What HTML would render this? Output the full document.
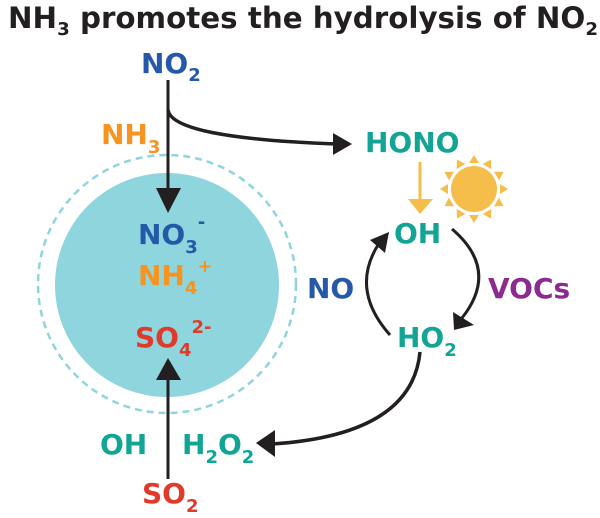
<!DOCTYPE html>
<html><head><meta charset="utf-8"><style>
html,body{margin:0;padding:0;background:#fff;width:600px;height:518px;overflow:hidden}
svg{display:block}
text{font-family:"DejaVu Sans","Liberation Sans",sans-serif;font-weight:bold}
</style></head><body>
<svg width="600" height="518" viewBox="0 0 600 518" xmlns="http://www.w3.org/2000/svg">
<!-- title -->
<text x="8" y="28" font-size="29" fill="#231f20" textLength="590" lengthAdjust="spacingAndGlyphs">NH<tspan font-size="18" dy="7">3</tspan><tspan dy="-7"> promotes the hydrolysis of NO</tspan><tspan font-size="18" dy="7">2</tspan></text>

<!-- circles -->
<circle cx="167" cy="284" r="129" fill="none" stroke="#8fd5dd" stroke-width="2.5" stroke-dasharray="7,5"/>
<circle cx="167" cy="285" r="112" fill="#8fd5dd"/>

<!-- NO2 top -->
<text x="141" y="73" font-size="28" fill="#2459a8">NO<tspan font-size="18" dy="8">2</tspan></text>
<line x1="168" y1="80" x2="168" y2="192" stroke="#231f20" stroke-width="3"/>
<path d="M156,188 L181,188 L168,213 z" fill="#231f20"/>
<path d="M168,110 Q172,138 336,144" fill="none" stroke="#231f20" stroke-width="3.5"/>
<path d="M333,133 L352,144 L333,155 z" fill="#231f20"/>
<text x="101" y="144" font-size="28" fill="#f7931e">NH<tspan font-size="18" dy="9">3</tspan></text>

<text x="365" y="152" font-size="28" fill="#12a595">HONO</text>
<line x1="420" y1="162" x2="420" y2="202" stroke="#f5bd4a" stroke-width="3"/>
<path d="M408,199 L433,199 L420,214 z" fill="#f5bd4a"/>
<g transform="translate(474,189)" fill="#f5bd4a">
<circle r="23"/>
<g id="ray"><path d="M-5,-26 L5,-26 L0,-34 z"/></g>
<use href="#ray" transform="rotate(30)"/><use href="#ray" transform="rotate(60)"/><use href="#ray" transform="rotate(90)"/>
<use href="#ray" transform="rotate(120)"/><use href="#ray" transform="rotate(150)"/><use href="#ray" transform="rotate(180)"/>
<use href="#ray" transform="rotate(210)"/><use href="#ray" transform="rotate(240)"/><use href="#ray" transform="rotate(270)"/>
<use href="#ray" transform="rotate(300)"/><use href="#ray" transform="rotate(330)"/>
</g>

<text x="394" y="243" font-size="28" fill="#12a595">OH</text>
<path d="M390,335 Q350,290 378,245" fill="none" stroke="#231f20" stroke-width="3"/>
<path d="M370,240 L389,232 L385,253 z" fill="#231f20"/>
<path d="M452,229 Q500,270 462,318" fill="none" stroke="#231f20" stroke-width="3"/>
<path d="M453,312 L474,325 L454,330 z" fill="#231f20"/>
<text x="307" y="298" font-size="28" fill="#2459a8">NO</text>
<text x="488" y="298" font-size="28" fill="#8b2a8f">VOCs</text>
<text x="397" y="347" font-size="28" fill="#12a595">HO<tspan font-size="18" dy="9">2</tspan></text>

<path d="M420,352 Q412,435 272,444" fill="none" stroke="#231f20" stroke-width="3.5"/>
<path d="M275,430 L256,443 L275,457 z" fill="#231f20"/>

<text x="138" y="244" font-size="28" fill="#2459a8">NO<tspan font-size="18" dy="9">3</tspan><tspan font-size="18" dy="-25">-</tspan></text>
<text x="138" y="285" font-size="28" fill="#f7931e">NH<tspan font-size="18" dy="9">4</tspan><tspan font-size="18" dy="-22">+</tspan></text>
<text x="135" y="347" font-size="28" fill="#e03a2a">SO<tspan font-size="18" dy="9">4</tspan><tspan font-size="18" dy="-23">2-</tspan></text>

<line x1="168" y1="479" x2="168" y2="375" stroke="#231f20" stroke-width="3"/>
<path d="M156,380 L181,380 L168,358 z" fill="#231f20"/>
<text x="100" y="454" font-size="28" fill="#12a595">OH</text>
<text x="182" y="454" font-size="28" fill="#12a595">H<tspan font-size="18" dy="9">2</tspan><tspan dy="-9">O</tspan><tspan font-size="18" dy="9">2</tspan></text>
<text x="142" y="503" font-size="28" fill="#e03a2a">SO<tspan font-size="18" dy="9">2</tspan></text>
</svg>
</body></html>
